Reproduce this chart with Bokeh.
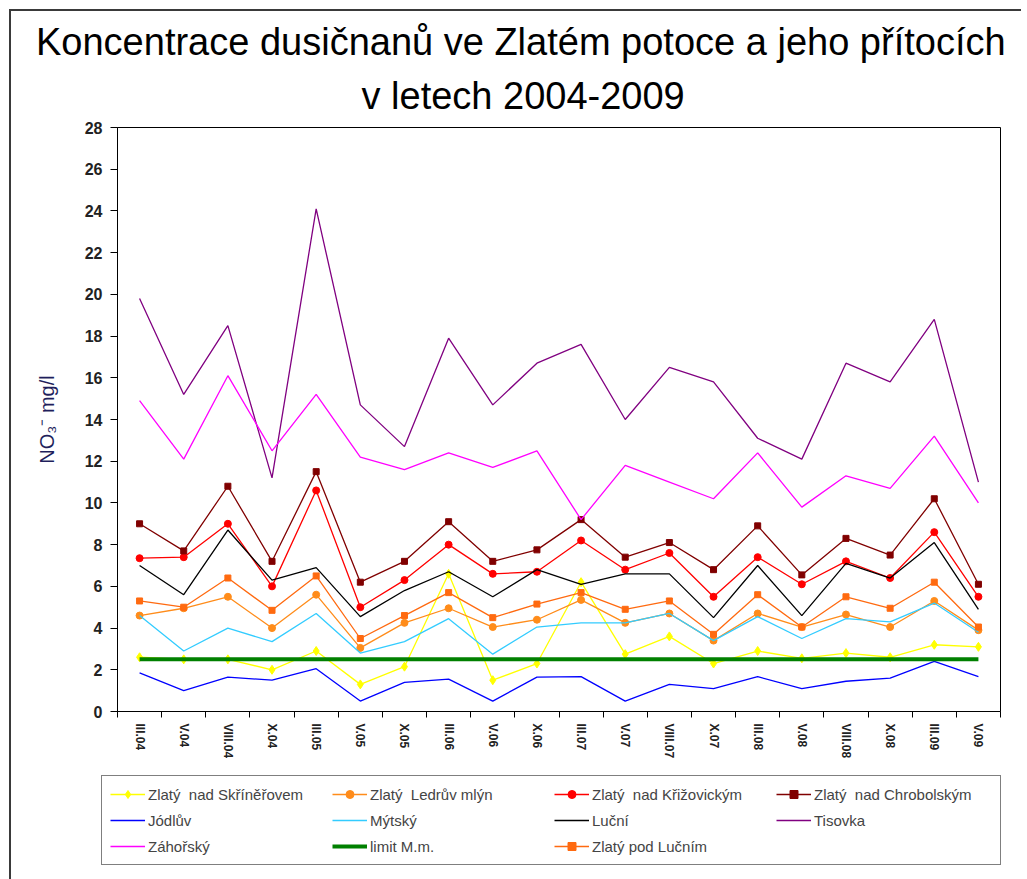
from bokeh.plotting import figure
from bokeh.models import FixedTicker, Legend, LegendItem, Title, Range1d
from bokeh.layouts import column, row
from bokeh.embed import file_html
from bokeh.resources import INLINE

categories = ["III.04", "V.04", "VIII.04", "X.04", "III.05", "V.05", "X.05",
              "III.06", "V.06", "X.06", "III.07", "V.07", "VIII.07", "X.07",
              "III.08", "V.08", "VIII.08", "X.08", "III.09", "V.09"]

skreherov = [2.6, 2.5, 2.5, 2.0, 2.9, 1.3, 2.15, 6.6, 1.5, 2.3,
             6.2, 2.75, 3.6, 2.3, 2.9, 2.55, 2.8, 2.6, 3.2, 3.1]
ledruv_mlyn = [4.6, 4.95, 5.5, 4.0, 5.6, 3.05, 4.25, 4.95, 4.05, 4.4,
               5.35, 4.25, 4.7, 3.4, 4.7, 4.05, 4.65, 4.05, 5.3, 3.9]
krizovicky = [7.35, 7.4, 9.0, 6.0, 10.6, 5.0, 6.3, 8.0, 6.6, 6.7,
              8.2, 6.8, 7.6, 5.5, 7.4, 6.1, 7.2, 6.4, 8.6, 5.5]
chrobolsky = [9.0, 7.7, 10.8, 7.2, 11.5, 6.2, 7.2, 9.1, 7.2, 7.75,
              9.2, 7.4, 8.1, 6.8, 8.9, 6.55, 8.3, 7.5, 10.2, 6.1]
jodluv = [1.85, 1.0, 1.65, 1.5, 2.05, 0.5, 1.4, 1.55, 0.5, 1.65,
          1.67, 0.5, 1.3, 1.1, 1.67, 1.1, 1.45, 1.6, 2.4, 1.67]
mytsky = [4.6, 2.9, 4.0, 3.35, 4.7, 2.8, 3.35, 4.45, 2.75, 4.05,
          4.25, 4.25, 4.7, 3.4, 4.55, 3.5, 4.45, 4.3, 5.2, 3.8]
lucni = [7.0, 5.6, 8.7, 6.3, 6.9, 4.55, 5.8, 6.7, 5.5, 6.8,
         6.1, 6.6, 6.6, 4.5, 7.0, 4.6, 7.1, 6.4, 8.1, 4.9]
tisovka = [19.8, 15.2, 18.5, 11.2, 24.1, 14.7, 12.7, 17.9, 14.7, 16.7,
           17.6, 14.0, 16.5, 15.8, 13.1, 12.1, 16.7, 15.8, 18.8, 11.0]
zahorsky = [14.9, 12.1, 16.1, 12.5, 15.2, 12.2, 11.6, 12.4, 11.7, 12.5,
            9.2, 11.8, 11.0, 10.2, 12.4, 9.8, 11.3, 10.7, 13.2, 10.0]
pod_lucnim = [5.3, 5.0, 6.4, 4.85, 6.5, 3.5, 4.6, 5.7, 4.5, 5.15,
              5.7, 4.9, 5.3, 3.7, 5.6, 4.05, 5.5, 4.95, 6.2, 4.05]
limit_mm = [2.5] * len(categories)

y_ticks = list(range(0, 29, 2))
title_lines = ["Koncentrace dusičnanů ve Zlatém potoce a jeho přítocích",
               "v letech 2004-2009"]

x = list(range(len(categories)))
FONT = "Liberation Sans"

p = figure(width=1010, height=759, output_backend="svg", toolbar_location=None,
           x_range=Range1d(-0.5, len(categories) - 0.5), y_range=Range1d(0, 28),
           min_border_left=106, min_border_right=21, min_border_top=116,
           min_border_bottom=59)
p.xgrid.visible = False
p.ygrid.visible = False
p.outline_line_color = "black"
p.outline_line_width = 1
p.background_fill_color = "white"
p.border_fill_color = "white"

# axes
p.yaxis.ticker = FixedTicker(ticks=y_ticks)
p.yaxis.major_tick_out = 7
p.yaxis.major_tick_in = 0
p.yaxis.minor_tick_out = 0
p.yaxis.minor_tick_in = 0
p.yaxis.major_label_text_font = FONT
p.yaxis.major_label_text_font_size = "16px"
p.yaxis.major_label_text_font_style = "bold"
p.yaxis.major_label_text_color = "#222222"
p.yaxis.major_label_standoff = 8
p.yaxis.axis_label = "NO\u2083\u207b mg/l"
p.yaxis.axis_label_text_font = FONT
p.yaxis.axis_label_text_font_size = "20px"
p.yaxis.axis_label_text_font_style = "normal"
p.yaxis.axis_label_text_color = "#1f1f5c"
p.yaxis.axis_label_standoff = 24
p.yaxis.axis_line_color = "black"

p.xaxis.ticker = FixedTicker(ticks=x, minor_ticks=[i - 0.5 for i in range(len(categories) + 1)])
p.xaxis.major_label_overrides = {i: c for i, c in enumerate(categories)}
p.xaxis.major_tick_out = 0
p.xaxis.major_tick_in = 0
p.xaxis.minor_tick_out = 6
p.xaxis.minor_tick_in = 0
p.xaxis.minor_tick_line_color = "black"
p.xaxis.major_label_orientation = "vertical"
p.xaxis.major_label_text_font = FONT
p.xaxis.major_label_text_font_size = "12px"
p.xaxis.major_label_text_font_style = "bold"
p.xaxis.major_label_text_color = "#222222"
p.xaxis.major_label_standoff = 6
p.xaxis.axis_line_color = "black"

# legend-only figure below the chart
lf = figure(width=1010, height=109, output_backend="svg", toolbar_location=None,
            x_axis_location=None, y_axis_location=None,
            x_range=Range1d(0, 1), y_range=Range1d(0, 1),
            min_border_left=0, min_border_right=0, min_border_top=0, min_border_bottom=0)
lf.xgrid.visible = False
lf.ygrid.visible = False
lf.outline_line_color = None
lf.background_fill_color = "white"
lf.border_fill_color = "white"

items = []
hidden_x = [-5, -4]
hidden_y = [-5, -5]

def add(name, ys, color, width=1.3, marker=None, size=7):
    p.line(x, ys, line_color=color, line_width=width)
    r = [lf.line(hidden_x, hidden_y, line_color=color, line_width=width)]
    if marker:
        p.scatter(x, ys, marker=marker, size=size, fill_color=color, line_color=color)
        r.append(lf.scatter(hidden_x, hidden_y, marker=marker, size=size,
                            fill_color=color, line_color=color))
    items.append(LegendItem(label=name, renderers=r))

add("Zlatý  nad Skříněřovem", skreherov, "#FFFF00", marker="diamond", size=9)
add("Zlatý  Ledrův mlýn", ledruv_mlyn, "#FF8C1A", marker="circle", size=7)
add("Zlatý  nad Křižovickým", krizovicky, "#FF0000", marker="circle", size=7)
add("Zlatý  nad Chrobolským", chrobolsky, "#800000", marker="square", size=6)
add("Jódlův", jodluv, "#0000FF")
add("Mýtský", mytsky, "#33CCFF")
add("Luční", lucni, "#000000")
add("Tisovka", tisovka, "#800080")
add("Záhořský", zahorsky, "#FF00FF")
add("limit M.m.", limit_mm, "#008000", width=4)
add("Zlatý pod Lučním", pod_lucnim, "#FF6A10", marker="square", size=6)

legend = Legend(items=items, location=(90, 14), orientation="horizontal", ncols=4,
                glyph_width=35, glyph_height=20, label_height=20, label_width=178,
                label_standoff=3, spacing=6, padding=8, margin=0,
                label_text_font=FONT, label_text_font_size="15px",
                border_line_color="black", border_line_width=1.5,
                background_fill_color="white", background_fill_alpha=1.0)
lf.add_layout(legend, "center")

# title, two lines
p.add_layout(Title(text=title_lines[1], align="left", offset=244,
                   text_font=FONT, text_font_size="38px", text_font_style="normal",
                   text_color="black", standoff=22), "above")
p.add_layout(Title(text=title_lines[0], align="left", offset=-81.5,
                   text_font=FONT, text_font_size="38px", text_font_style="normal",
                   text_color="black", standoff=-3), "above")

layout = column(p, row(lf), spacing=0,
                styles={"border-left": "2px solid #3a3a3a", "border-top": "2px solid #3a3a3a",
                        "margin-left": "9px", "margin-top": "9px"})

open("out.html", "w").write(file_html(layout, INLINE))
